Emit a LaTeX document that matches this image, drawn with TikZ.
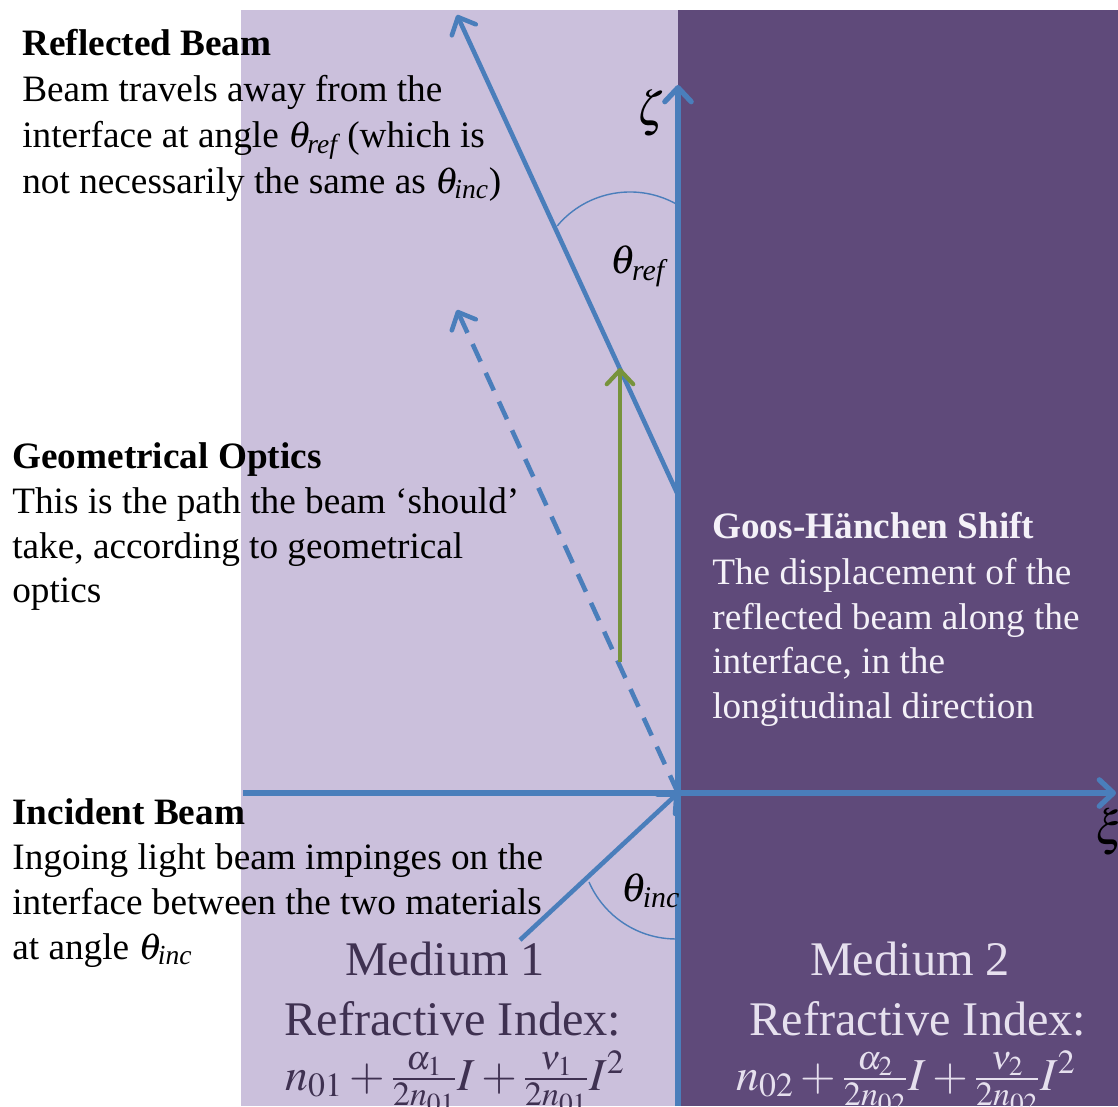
\documentclass[tikz,border=0pt]{standalone}
\usepackage{amsmath}
\usepackage{mathptmx}
\usepackage{fontspec}
\setmainfont{Liberation Serif}
\usetikzlibrary{arrows.meta}
\definecolor{mlight}{HTML}{CBC0DC}
\definecolor{mdark}{HTML}{5F4A7A}
\definecolor{beamblue}{HTML}{4A7EBB}
\definecolor{shiftgreen}{HTML}{77933C}
\definecolor{medonetext}{HTML}{3F3151}
\definecolor{medtwotext}{HTML}{E6E0EE}
\definecolor{goostext}{HTML}{F4F1F8}
\newcommand{\thref}{$\theta_{\textit{ref}}$}
\newcommand{\thinc}{$\theta_{\textit{inc}}$}
\begin{document}
\begin{tikzpicture}[x=0.02cm,y=-0.02cm,
  barb/.style={-{Straight Barb[length=8pt,width=15pt,round]}},
  axisline/.style={draw=beamblue,line width=3pt,barb},
  beamline/.style={draw=beamblue,line width=2.6pt,barb},
  angarc/.style={draw=beamblue,line width=0.8pt},
  txt/.style={anchor=base west,inner sep=0pt,font=\fontsize{21.2}{25}\selectfont},
  btxt/.style={anchor=base west,inner sep=0pt,font=\fontsize{21.2}{25}\selectfont\bfseries},
  medtxt/.style={anchor=base,inner sep=0pt,font=\fontsize{27.5}{33}\selectfont},
  formtxt/.style={anchor=base west,inner sep=0pt,font=\fontsize{26}{31}\selectfont},
  anglbl/.style={inner sep=0pt,font=\fontsize{23}{28}\selectfont}]
\useasboundingbox (0,0) rectangle (1118,1106);
% media
\fill[mlight] (241,10) rectangle (678,1106);
\fill[mdark] (678,10) rectangle (1118,1106);
% key points
\coordinate (O) at (678,793);
\coordinate (R0) at (678,495);
\coordinate (Rtip) at (457,15);
\coordinate (Ztip) at (678,85);
\coordinate (Zbot) at (678,1106);
\coordinate (Xl) at (243,793);
\coordinate (Xtip) at (1116,793);
\coordinate (Iin) at (520,940);
\coordinate (Dtip) at (457,310);
\coordinate (Gs) at (620,662);
\coordinate (Ge) at (620,368);
% axes
\draw[axisline] (Zbot) -- (Ztip);
\draw[axisline] (Xl) -- (Xtip);
% beams
\draw[beamline] (Iin) -- (O);
\draw[beamline] (R0) -- (Rtip);
\draw[beamline,dash pattern=on 11pt off 7pt] (O) -- (Dtip);
\draw[draw=shiftgreen,line width=2.4pt,barb] (Gs) -- (Ge);
% angle arcs
\draw[angarc] (677.5,204.7) arc[start angle=-60,end angle=-140,radius=95];
\draw[angarc] (589,882) arc[start angle=156.4,end angle=90,radius=95];
\node[anglbl] (thr) at (638,266) {\thref};
\node[anglbl] (thi) at (651,891) {\thinc};
\node[anglbl,font=\fontsize{27}{30}\selectfont] (zeta) at (651,113) {$\zeta$};
\node[anglbl,font=\fontsize{27}{30}\selectfont] (xi) at (1110,832) {$\xi$};
% reflected beam text
\node[btxt] (rb0) at (22,55) {Reflected Beam};
\node[txt] (rb1) at (22,101) {Beam travels away from the};
\node[txt] (rb2) at (22,147) {interface at angle \thref\ (which is};
\node[txt] (rb3) at (22,193) {not necessarily the same as \thinc)};
% geometrical optics text
\node[btxt] (go0) at (12,468) {Geometrical Optics};
\node[txt] (go1) at (12,513) {This is the path the beam ‘should’};
\node[txt] (go2) at (12,558) {take, according to geometrical};
\node[txt] (go3) at (12,602) {optics};
% incident beam text
\node[btxt] (ib0) at (12,824) {Incident Beam};
\node[txt] (ib1) at (12,869) {Ingoing light beam impinges on the};
\node[txt] (ib2) at (12,914) {interface between the two materials};
\node[txt] (ib3) at (12,959) {at angle \thinc};
% Goos-Hanchen text
\node[btxt,text=goostext] (gh0) at (712,538) {Goos-Hänchen Shift};
\node[txt,text=goostext] (gh1) at (712,584) {The displacement of the};
\node[txt,text=goostext] (gh2) at (712,629) {reflected beam along the};
\node[txt,text=goostext] (gh3) at (712,673) {interface, in the};
\node[txt,text=goostext] (gh4) at (712,718) {longitudinal direction};
% media labels
\node[medtxt,text=medonetext] (m1a) at (445,975) {Medium 1};
\node[medtxt,text=medonetext] (m1b) at (453,1035) {Refractive Index:};
\node[formtxt,text=medonetext] (m1c) at (285,1090) {$n_{01}+\frac{\alpha_1}{2n_{01}}I+\frac{\nu_1}{2n_{01}}I^2$};
\node[medtxt,text=medtwotext] (m2a) at (910,975) {Medium 2};
\node[medtxt,text=medtwotext] (m2b) at (918,1035) {Refractive Index:};
\node[formtxt,text=medtwotext] (m2c) at (736,1090) {$n_{02}+\frac{\alpha_2}{2n_{02}}I+\frac{\nu_2}{2n_{02}}I^2$};
\end{tikzpicture}
\end{document}
